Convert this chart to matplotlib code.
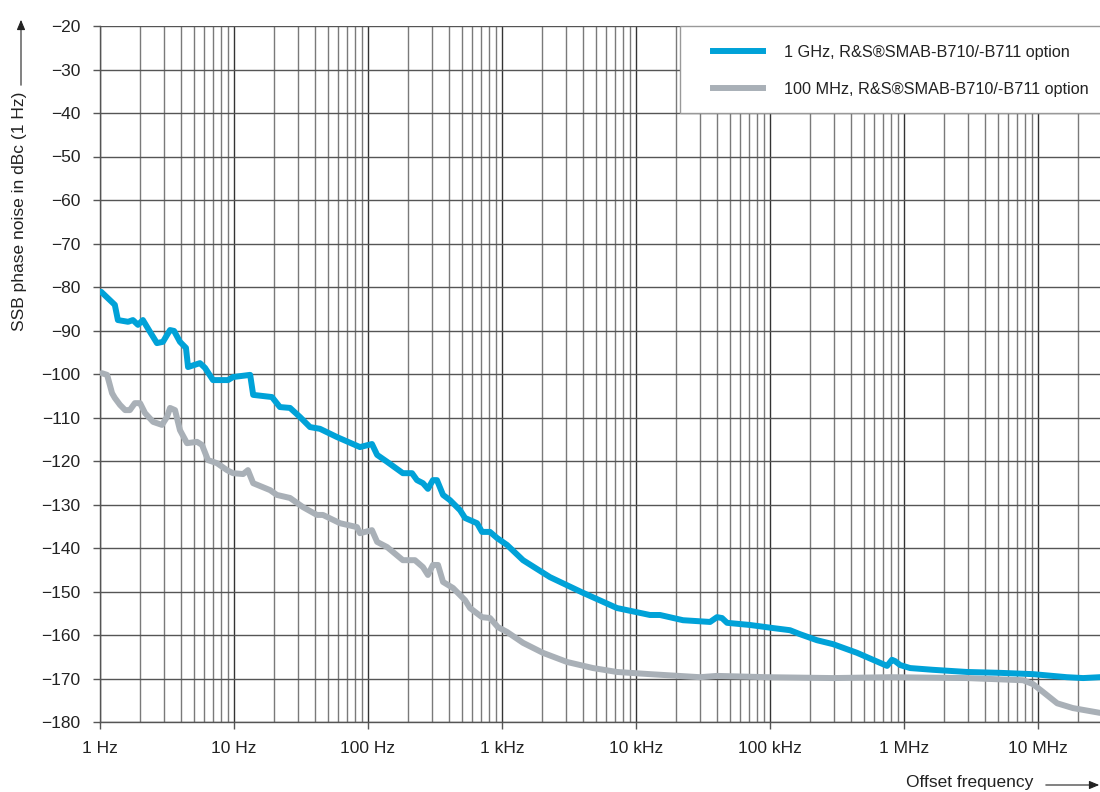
import matplotlib
matplotlib.use("Agg")
import matplotlib.pyplot as plt
from matplotlib.ticker import FixedLocator, LogLocator, NullFormatter
from matplotlib.patches import Rectangle, FancyArrowPatch
from matplotlib.lines import Line2D

plt.rcParams['font.family'] = ['Liberation Sans', 'DejaVu Sans']

# ---- data ----
f_1ghz = [1.02, 1.29, 1.36, 1.62, 1.76, 1.92, 2.09, 2.36, 2.66, 2.95, 3.33, 3.57, 3.95, 4.38, 4.54,
          5.57, 6.08, 6.97, 9.02, 9.83, 13.2, 13.9, 19.2, 22.0, 26.2, 31.1, 36.9, 43.8, 58.7, 87.1,
          107, 117, 139, 182, 213, 232, 257, 280, 305, 327, 363, 409, 486, 530, 651, 709, 813, 918,
          1090, 1435, 2280, 4020, 7210, 12700, 15100, 22400, 35700, 40200, 43800, 47800, 71000,
          105000, 141000, 167000, 224000, 295000, 446000, 587000, 747000, 813000, 857000, 934000,
          1.11e6, 1.64e6, 2.95e6, 5.2e6, 9.18e6, 1.64e7, 2.17e7, 2.9e7]
pn_1ghz = [-81.1, -84.1, -87.6, -88.0, -87.6, -88.7, -87.6, -90.3, -92.9, -92.6, -89.9, -90.1, -92.6,
           -94.0, -98.4, -97.5, -98.6, -101.4, -101.4, -100.7, -100.2, -104.8, -105.3, -107.6, -107.8,
           -109.9, -112.2, -112.6, -114.5, -116.8, -116.1, -118.6, -120.2, -122.8, -122.8, -124.4,
           -125.1, -126.4, -124.4, -124.4, -127.8, -129.0, -131.3, -133.1, -134.3, -136.3, -136.3,
           -137.7, -139.3, -142.8, -146.7, -150.3, -153.8, -155.4, -155.4, -156.6, -157.0, -155.9,
           -156.1, -157.2, -157.7, -158.4, -158.9, -159.8, -161.2, -162.1, -164.1, -165.7, -167.1,
           -165.7, -166.0, -166.9, -167.6, -168.0, -168.5, -168.7, -169.0, -169.7, -169.9, -169.7]

f_100mhz = [1.03, 1.13, 1.23, 1.29, 1.41, 1.54, 1.67, 1.82, 1.99, 2.17, 2.49, 2.90, 3.16, 3.33, 3.63,
            3.95, 4.46, 5.30, 5.77, 6.40, 7.46, 8.87, 9.83, 11.7, 12.7, 13.9, 18.6, 20.9, 26.2, 32.7,
            41.6, 46.1, 61.8, 82.8, 87.1, 107, 117, 139, 182, 224, 257, 280, 305, 333, 363, 431, 530,
            577, 709, 813, 933, 1090, 1435, 2020, 3055, 4775, 7210, 12700, 30000, 40200, 95000,
            295000, 787000, 2.95e6, 7.73e6, 9.18e6, 1.09e7, 1.39e7, 1.82e7, 2.9e7]
pn_100mhz = [-99.8, -100.2, -104.4, -105.5, -107.1, -108.3, -108.3, -106.7, -106.7, -109.0, -111.0,
             -111.7, -109.9, -107.8, -108.3, -112.9, -115.9, -115.6, -116.3, -119.8, -120.5, -122.1,
             -122.8, -123.0, -122.1, -125.1, -126.7, -127.8, -128.5, -130.6, -132.4, -132.4, -134.3,
             -135.2, -136.6, -135.9, -138.6, -139.8, -142.8, -142.8, -144.4, -146.2, -143.9, -143.9,
             -147.8, -149.2, -152.0, -153.8, -155.9, -156.1, -158.2, -159.3, -161.8, -164.1, -166.2,
             -167.6, -168.5, -169.0, -169.7, -169.4, -169.7, -169.9, -169.7, -169.9, -170.4, -171.3,
             -173.1, -175.7, -176.8, -177.9]

series_labels = ["1 GHz, R&S®SMAB-B710/-B711 option", "100 MHz, R&S®SMAB-B710/-B711 option"]
x_tick_values = [1, 10, 100, 1e3, 1e4, 1e5, 1e6, 1e7]
x_tick_labels = ["1 Hz", "10 Hz", "100 Hz", "1 kHz", "10 kHz", "100 kHz", "1 MHz", "10 MHz"]
y_tick_values = list(range(-180, -19, 10))

FS = 12.5
FS_LEG = 11.7
TXT = "#222222"

# ---- figure ----
fig = plt.figure(figsize=(11, 7.92), dpi=100)
fig.patch.set_facecolor("white")
ax = fig.add_axes([100/1100, 70/792, 1000/1100, 696/792])
ax.set_xscale("log")
ax.set_xlim(1, 2.9e7)
ax.set_ylim(-180, -20)

ax.xaxis.set_major_locator(FixedLocator(x_tick_values))
ax.set_xticklabels(x_tick_labels)
ax.xaxis.set_minor_locator(LogLocator(base=10, subs=range(2, 10), numticks=20))
ax.xaxis.set_minor_formatter(NullFormatter())
ax.yaxis.set_major_locator(FixedLocator(y_tick_values))

ax.grid(True, which="major", axis="x", color="#333333", lw=1.0)
ax.grid(True, which="minor", axis="x", color="#7a7a7a", lw=1.0)
ax.grid(True, which="major", axis="y", color="#555555", lw=1.0)
ax.set_axisbelow(True)

for s in ["top", "right"]:
    ax.spines[s].set_visible(False)
for s in ["left", "bottom"]:
    ax.spines[s].set_color("#555555")
    ax.spines[s].set_linewidth(1.0)

ax.tick_params(axis="both", which="major", length=5, width=1, color="#555555",
               labelsize=FS, labelcolor=TXT)
ax.tick_params(axis="x", which="major", pad=9)
ax.tick_params(axis="y", which="major", pad=9)
ax.tick_params(axis="x", which="minor", length=0)

ax.plot(f_1ghz, pn_1ghz, color="#00a2d8", lw=4.3, solid_joinstyle="round",
        solid_capstyle="round", zorder=5)
ax.plot(f_100mhz, pn_100mhz, color="#a9b0b7", lw=4.3, solid_joinstyle="round",
        solid_capstyle="round", zorder=4)

# legend box (white, covering grid)
box = Rectangle((0.58, (722-113)/696), 0.45, 87/696, transform=ax.transAxes,
                facecolor="white", edgecolor="#999999", lw=1.0, zorder=3, clip_on=False)
ax.add_patch(box)
handles = [Line2D([], [], color="#00a2d8", lw=4.3),
           Line2D([], [], color="#a9b0b7", lw=4.3)]
leg = ax.legend(handles, series_labels, loc="upper left",
                bbox_to_anchor=((713-100)/1000, (722-45)/696), frameon=False,
                borderpad=0, borderaxespad=0, handlelength=3.1, handletextpad=1.3,
                labelspacing=1.35, fontsize=FS_LEG)
leg.set_zorder(6)
for t in leg.get_texts():
    t.set_color(TXT)

# axis titles with arrows
fig.text(20/1100, 1-211/792, "SSB phase noise in dBc (1 Hz)", rotation=90,
         ha="center", va="center", fontsize=FS, color=TXT)
fig.add_artist(FancyArrowPatch(
    (21/1100, 1-88/792), (21/1100, 1-17/792), transform=fig.transFigure,
    arrowstyle="-|>,head_length=6,head_width=2.5", color=TXT, lw=0.8,
    mutation_scale=1))
fig.text(1033/1100, 1-782/792, "Offset frequency", ha="right", va="center",
         fontsize=FS, color=TXT)
fig.add_artist(FancyArrowPatch(
    (1043/1100, 1-785/792), (1102/1100, 1-785/792), transform=fig.transFigure,
    arrowstyle="-|>,head_length=6,head_width=2.5", color=TXT, lw=0.8,
    mutation_scale=1))

fig.savefig("out.png", dpi=100, facecolor="white")
